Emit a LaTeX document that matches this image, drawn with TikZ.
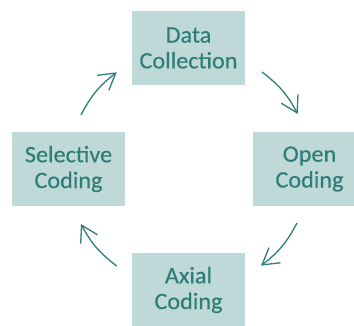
\documentclass[tikz,border=0pt]{standalone}
\usepackage{fontspec}
\setmainfont{Carlito}[FakeStretch=1.03,FakeBold=0.4]
\usetikzlibrary{arrows.meta}
\definecolor{boxfill}{RGB}{191,217,216}
\definecolor{boxtext}{RGB}{46,125,119}
\definecolor{cyclearrow}{RGB}{45,128,122}
\tikzset{
  stage/.style={rectangle, fill=boxfill, text=boxtext, minimum width=113pt,
    minimum height=74pt, inner sep=0pt, align=center,
    font=\fontsize{23.5pt}{25.8pt}\selectfont},
  cycle/.style={draw=cyclearrow, line width=1.3pt,
    -{Straight Barb[length=16pt,width=19pt]}, bend left=12.5}
}
\begin{document}
\begin{tikzpicture}[x=1pt,y=1pt]
  \clip (0,0) rectangle (354,326);
  \fill[white] (0,0) rectangle (354,326);

  % the four stages of the cycle
  \node[stage] (collect) at (188.5,278) {Data\\Collection};
  \node[stage] (open)    at (309.5,157) {Open\\Coding};
  \node[stage] (axial)   at (188.5,36)  {Axial\\Coding};
  \node[stage] (select)  at (68.5,157)  {Selective\\Coding};

  % ends of the curved arrows between the stages
  \coordinate (a1s) at (262,254);
  \coordinate (a1e) at (297.7,212);
  \coordinate (a2s) at (297,103);
  \coordinate (a2e) at (261,60.3);
  \coordinate (a3s) at (116.7,60);
  \coordinate (a3e) at (81,102);
  \coordinate (a4s) at (81,211);
  \coordinate (a4e) at (116.7,253.7);

  \draw[cycle] (a1s) to (a1e);
  \draw[cycle] (a2s) to (a2e);
  \draw[cycle] (a3s) to (a3e);
  \draw[cycle] (a4s) to (a4e);
\end{tikzpicture}
\end{document}
